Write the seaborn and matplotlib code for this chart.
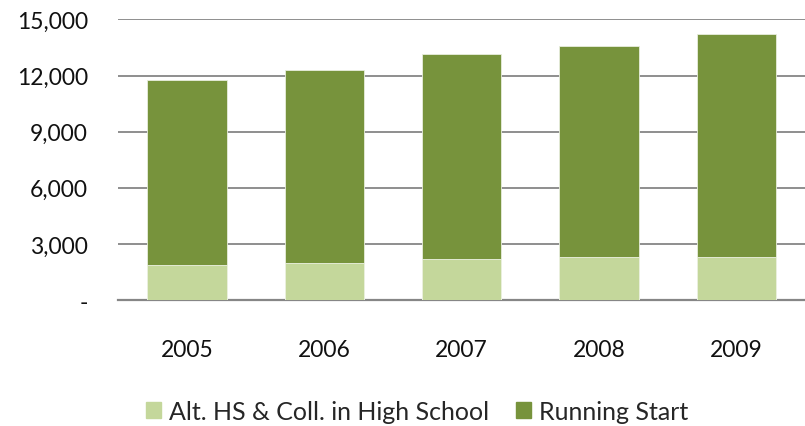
import matplotlib
matplotlib.use("Agg")
import matplotlib.pyplot as plt
from matplotlib.patches import Patch
from matplotlib.ticker import FuncFormatter
import pandas as pd
import seaborn as sns

# === Data ===
years = ["2005", "2006", "2007", "2008", "2009"]
alt_hs = [1870, 1980, 2180, 2300, 2300]
running_start = [9900, 10310, 10980, 11290, 11950]

LIGHT = "#C4D79B"
DARK = "#77933C"


def main():
    df = pd.DataFrame({"year": years, "alt": alt_hs, "rs": running_start})
    df["total"] = df["alt"] + df["rs"]

    sns.set_style("white")
    plt.rcParams["font.family"] = ["Lato", "DejaVu Sans"]

    fig = plt.figure(figsize=(8.05, 4.27), dpi=100)
    ax = fig.add_axes([0.147, 0.295, 0.853, 0.657])

    # stacked: draw totals first, then the bottom segment over it
    sns.barplot(data=df, x="year", y="total", color=DARK, width=0.58,
                saturation=1, edgecolor="#e8eedd", linewidth=0.6, ax=ax, zorder=3)
    sns.barplot(data=df, x="year", y="alt", color=LIGHT, width=0.58,
                saturation=1, edgecolor="#eef3e4", linewidth=0.6, ax=ax, zorder=4)

    ax.set_ylim(0, 15000)
    ax.set_yticks(range(0, 15001, 3000))
    ax.yaxis.set_major_formatter(FuncFormatter(lambda v, p: "-" if v == 0 else f"{int(v):,}"))
    ax.grid(axis="y", color="#868686", linewidth=1.3, zorder=0)
    ax.set_axisbelow(True)
    for s in ["top", "right", "left"]:
        ax.spines[s].set_visible(False)
    ax.spines["bottom"].set_color("#868686")
    ax.spines["bottom"].set_linewidth(1.6)
    ax.tick_params(axis="y", length=0, pad=22, labelsize=16.5, labelcolor="#111111")
    ax.tick_params(axis="x", length=0, pad=28, labelsize=16.5, labelcolor="#111111")
    ax.set_xlabel("")
    ax.set_ylabel("")

    handles = [Patch(color=LIGHT, label="Alt. HS & Coll. in High School"),
               Patch(color=DARK, label="Running Start")]
    fig.legend(handles=handles, loc="center", bbox_to_anchor=(0.518, 0.035),
               ncol=2, frameon=False, fontsize=18, handlelength=0.6,
               handleheight=0.6, handletextpad=0.3, columnspacing=1.1)

    fig.savefig("out.png", dpi=100)
    plt.close(fig)


if __name__ == "__main__":
    main()
